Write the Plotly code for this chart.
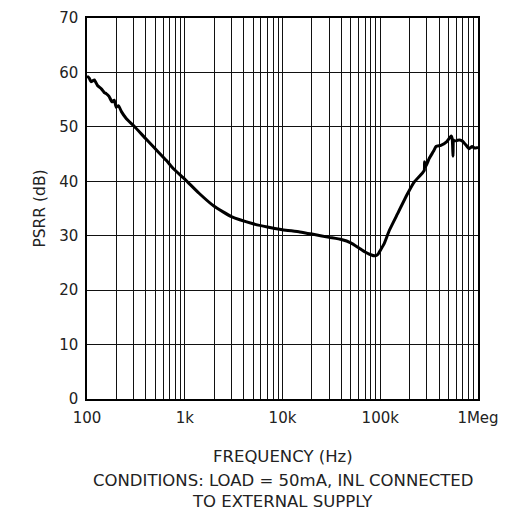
import plotly.graph_objects as go

freq_hz = [100, 105, 110, 119, 128, 140, 150, 157, 168, 180, 190, 199, 210, 225, 253, 304,
           400, 516, 650, 767, 1000, 1400, 2000, 3000, 5000, 7000, 10000, 15000, 20000, 30000,
           40000, 50000, 60000, 70000, 80000, 88000, 95000, 100000, 110000, 124000, 150000,
           190000, 223000, 260000, 282000, 284000, 290000, 317000, 350000, 372000, 417000,
           480000, 530000, 545000, 555000, 560000, 570000, 610000, 650000, 690000, 750000,
           810000, 870000, 920000, 1000000]
psrr_db = [59.3, 59.0, 58.3, 58.6, 57.6, 57.0, 56.3, 56.1, 55.6, 54.6, 54.9, 53.6, 53.9, 52.8, 51.5, 50.1,
           47.8, 45.7, 43.8, 42.3, 40.4, 37.8, 35.4, 33.5, 32.2, 31.6, 31.1, 30.7, 30.3, 29.7,
           29.3, 28.7, 27.8, 27.0, 26.5, 26.3, 26.6, 27.3, 28.6, 31.0, 34.0,
           37.7, 39.9, 41.2, 42.0, 43.6, 42.6, 44.2, 45.5, 46.4, 46.6,
           47.3, 48.3, 47.8, 44.6, 47.6, 47.4, 47.5, 47.6, 47.4, 46.7,
           46.0, 46.4, 46.1, 46.2]

x_tick_vals = [100, 1000, 10000, 100000, 1000000]
x_tick_text = ["100", "1k", "10k", "100k", "1Meg"]
y_tick_vals = [0, 10, 20, 30, 40, 50, 60, 70]

minor_vals = [m * 10 ** e for e in range(2, 6) for m in range(2, 10)]

fig = go.Figure()
fig.add_trace(go.Scatter(x=freq_hz, y=psrr_db, mode="lines", line_shape="spline",
                         line=dict(color="black", width=3, smoothing=0.4), showlegend=False))

font = dict(family="DejaVu Sans, sans-serif", size=15, color="#222222")
big_font = dict(family="DejaVu Sans, sans-serif", size=16.5, color="#222222")

W, H = 511, 506
L, R, T, B = 79, 41, 10, 115
plot_h = H - T - B


def ypaper(screen_y):
    # screen pixel (page has 8px body margin) -> paper fraction
    return (H - B - (screen_y - 8)) / plot_h


fig.update_layout(
    width=W, height=H,
    margin=dict(l=L, r=R, t=T, b=B, autoexpand=False),
    paper_bgcolor="white", plot_bgcolor="white",
    font=font,
    xaxis=dict(type="log", range=[2, 6], tickvals=x_tick_vals, ticktext=x_tick_text,
               showgrid=True, gridcolor="#111111", gridwidth=1,
               minor=dict(tickvals=minor_vals, showgrid=True, gridcolor="#111111", gridwidth=1, ticklen=0),
               showline=True, linecolor="black", linewidth=1.5, mirror=True,
               ticks="", zeroline=False, tickfont=font, ticklabelstandoff=4, automargin=False),
    yaxis=dict(range=[0, 70], tickvals=y_tick_vals, showgrid=True, gridcolor="#111111", gridwidth=1,
               showline=True, linecolor="black", linewidth=1.5, mirror=True,
               ticks="", zeroline=False, tickfont=font, automargin=False,
               ticklabelstandoff=4,
               title=dict(text="PSRR (dB)", font=dict(family=font["family"], size=15.5, color="#222222"),
                          standoff=10)),
)
fig.add_annotation(text="FREQUENCY (Hz)", xref="paper", yref="paper", x=0.5, y=ypaper(456),
                   showarrow=False, font=big_font, yanchor="middle")
fig.add_annotation(text="CONDITIONS: LOAD = 50mA, INL CONNECTED", xref="paper", yref="paper",
                   x=0.5, y=ypaper(480), showarrow=False, font=big_font, yanchor="middle")
fig.add_annotation(text="TO EXTERNAL SUPPLY", xref="paper", yref="paper",
                   x=0.5, y=ypaper(501), showarrow=False, font=big_font, yanchor="middle")

fig.write_html("out.html")
